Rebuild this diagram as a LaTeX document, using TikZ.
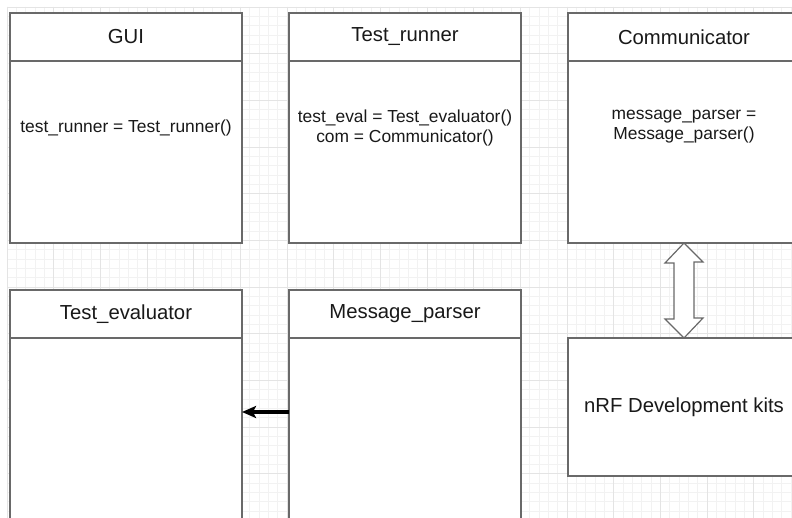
\documentclass[tikz,border=0pt]{standalone}
\usepackage{fontspec}
\setmainfont{Liberation Sans}
\usetikzlibrary{positioning,arrows.meta}
\definecolor{boxline}{RGB}{105,105,105}
\definecolor{ink}{RGB}{25,25,25}
\definecolor{gridminor}{RGB}{242,242,242}
\definecolor{gridmajor}{RGB}{228,228,228}
\tikzset{
	head/.style={draw=boxline,line width=1.3pt,fill=white,minimum width=232pt,minimum height=48pt,inner sep=0pt,outer sep=0pt,text=ink,font=\fontsize{20.3}{24}\selectfont},
	body/.style={head,minimum height=#1},
	attr/.style={align=center,text=ink,inner sep=0pt,font=\fontsize{17.4}{20}\selectfont},
	flow/.style={line width=3.6pt,-{Stealth[length=14pt,width=12pt,inset=3pt]}},
	hollow/.style={draw=boxline,line width=1.2pt,fill=white,line join=miter}
}
\begin{document}
\begin{tikzpicture}[x=1pt,y=-1pt]
		\clip (0,0) rectangle (792,518);
		\fill[white] (0,0) rectangle (792,518);
		%grid
		\foreach \k in {0,...,84}
		\draw[gridminor,line width=0.8pt] ({7+9.3333*\k},7)--({7+9.3333*\k},518);
		\foreach \k in {0,...,55}
		\draw[gridminor,line width=0.8pt] (7,{7+9.3333*\k})--(792,{7+9.3333*\k});
		\foreach \k in {0,...,16}
		\draw[gridmajor,line width=0.9pt] ({7+46.667*\k},7)--({7+46.667*\k},518);
		\foreach \k in {0,...,11}
		\draw[gridmajor,line width=0.9pt] (7,{7+46.667*\k})--(792,{7+46.667*\k});
		%classes, top row
		\node[head] (gui) at (126,37) {GUI};
		\node[body=182pt,below=0pt of gui] (guibody) {};
		\node[head] (runner) at (405,37) {Test\_runner};
		\node[body=182pt,below=0pt of runner] (runnerbody) {};
		\node[head] (comm) at (684,37) {Communicator};
		\node[body=182pt,below=0pt of comm] (commbody) {};
		%classes, bottom row
		\node[head] (eval) at (126,314) {Test\_evaluator};
		\node[body=250pt,below=0pt of eval] (evalbody) {};
		\node[head] (parser) at (405,314) {Message\_parser};
		\node[body=250pt,below=0pt of parser] (parserbody) {};
		\node[body=138pt] (nrf) at (684,407) {nRF Development kits};
		%members
		\node[attr] (guiattr) at (126,128) {test\_runner = Test\_runner()};
		\node[attr] (runnerattr) at (405,128) {test\_eval = Test\_evaluator()\\com = Communicator()};
		\node[attr] (commattr) at (684,127) {message\_parser =\\Message\_parser()};
		%links
		\draw[flow] (parserbody.west |- 0,412)--(evalbody.east |- 0,412);
		\draw[hollow] (commbody.south)--++(19,19)--++(-9,0)--++(0,56)--++(9,0)--(nrf.north)
		--++(-19,-19)--++(9,0)--++(0,-56)--++(-9,0)--cycle;
	\end{tikzpicture}
\end{document}
